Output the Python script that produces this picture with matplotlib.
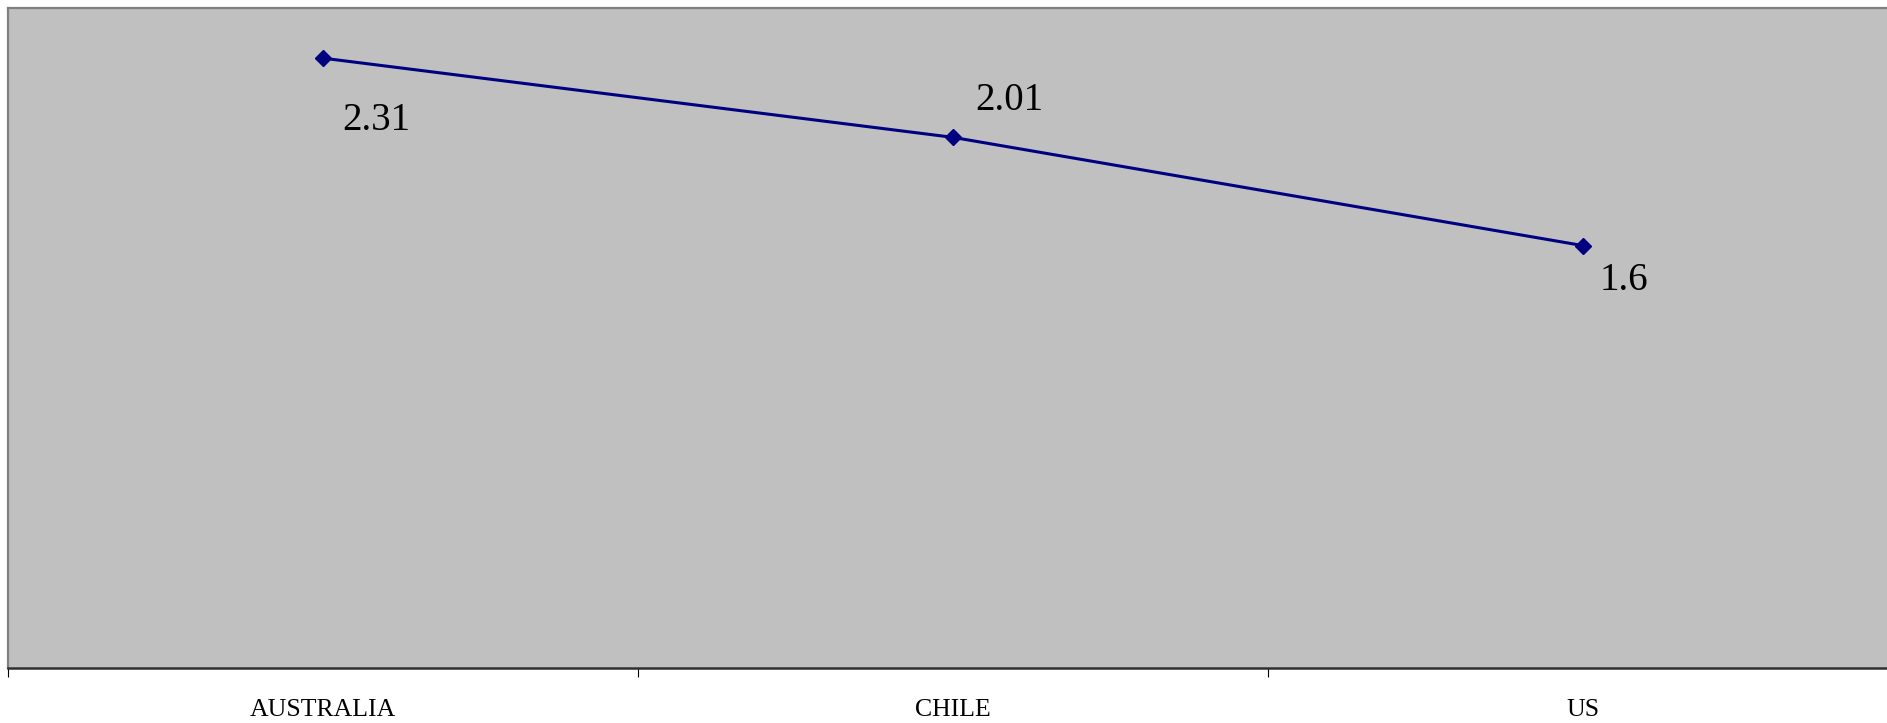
import matplotlib

matplotlib.use("Agg")
import matplotlib.pyplot as plt  # noqa: E402
from matplotlib.ticker import FixedLocator, NullFormatter  # noqa: E402

countries = ["AUSTRALIA", "CHILE", "US"]
values = [2.31, 2.01, 1.6]
value_labels = ["2.31", "2.01", "1.6"]
# pixel offsets of each value label from its point (left edge, vertical centre)
label_offsets = [(19, -62), (22, 37), (17, -35)]

W, H, DPI = 1887, 723, 100
fig = plt.figure(figsize=(W / DPI, H / DPI), dpi=DPI)
ax = fig.add_axes([8 / W, 55 / H, 1890 / W, 660 / H])
ax.set_facecolor("#c0c0c0")

xs = [i + 0.5 for i in range(len(countries))]
ax.plot(xs, values, color="#000080", lw=2.2, marker="D", ms=8,
        markerfacecolor="#000080", markeredgecolor="#000080")

for x, v, lab, (dx, dy) in zip(xs, values, value_labels, label_offsets):
    ax.annotate(lab, (x, v), xytext=(dx, dy), textcoords="offset pixels",
                ha="left", va="center", fontsize=28, family="Liberation Serif",
                color="black")

ax.set_xlim(0, len(countries))
ax.set_ylim(0, 2.5)
ax.set_yticks([])

ax.xaxis.set_major_locator(FixedLocator(range(len(countries) + 1)))
ax.xaxis.set_major_formatter(NullFormatter())
ax.xaxis.set_minor_locator(FixedLocator(xs))
ax.set_xticklabels(countries, minor=True, fontsize=18.5, family="Liberation Serif")
ax.tick_params(axis="x", which="major", length=6.5, width=0.8, direction="out", color="black")
ax.tick_params(axis="x", which="minor", length=0, pad=22.5)

for side in ("top", "left", "right"):
    ax.spines[side].set_color("#808080")
    ax.spines[side].set_linewidth(1.6)
ax.spines["bottom"].set_color("#303030")
ax.spines["bottom"].set_linewidth(1.8)

fig.savefig("out.png", dpi=DPI)
plt.close(fig)
